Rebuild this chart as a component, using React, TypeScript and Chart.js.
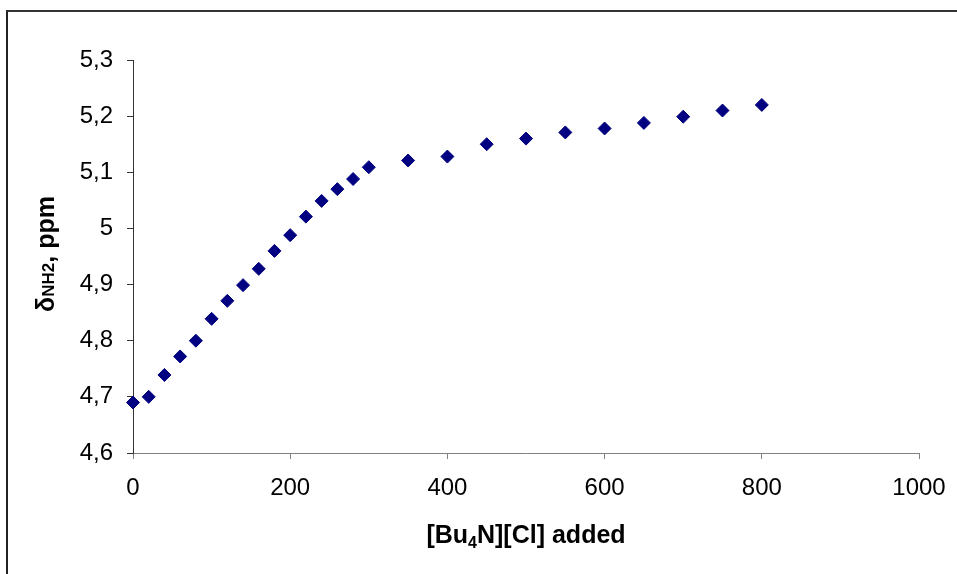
import React, { useEffect, useRef } from "react";
import { Chart, registerables } from "chart.js";

Chart.register(...registerables);

const xValues = [0, 20, 40, 60, 80, 100, 120, 140, 160, 180, 200, 220, 240, 260, 280, 300, 350, 400, 450, 500, 550, 600, 650, 700, 750, 800];
const yValues = [4.69, 4.70, 4.739, 4.772, 4.80, 4.839, 4.871, 4.899, 4.928, 4.96, 4.988, 5.021, 5.049, 5.07, 5.088, 5.109, 5.121, 5.128, 5.15, 5.16, 5.171, 5.178, 5.188, 5.199, 5.21, 5.22];
const yTickLabels = ["4,6", "4,7", "4,8", "4,9", "5", "5,1", "5,2", "5,3"];
const xTickLabels = ["0", "200", "400", "600", "800", "1000"];

const FONT = "Arial, 'Liberation Sans', sans-serif";

const titlePlugin = {
  id: "axisTitles",
  afterDraw(chart: any) {
    const ctx = chart.ctx as CanvasRenderingContext2D;
    const area = chart.chartArea;
    ctx.save();
    ctx.fillStyle = "#000";
    ctx.textBaseline = "alphabetic";
    ctx.textAlign = "left";
    const big = `bold 25px ${FONT}`;
    const small = `bold 16px ${FONT}`;
    // X title with subscript
    const parts: [string, string, number][] = [
      ["[Bu", big, 0],
      ["4", small, 5],
      ["N][Cl] added", big, 0],
    ];
    let total = 0;
    for (const [t, f] of parts) { ctx.font = f; total += ctx.measureText(t).width; }
    let x = (area.left + area.right) / 2 - total / 2;
    const by = 543;
    for (const [t, f, dy] of parts) {
      ctx.font = f;
      ctx.fillText(t, x, by + dy);
      x += ctx.measureText(t).width;
    }
    // Y title rotated
    const yparts: [string, string, number][] = [
      ["δ", big, 0],
      ["NH2", `bold 17px ${FONT}`, 0],
      [", ppm", big, 0],
    ];
    total = 0;
    for (const [t, f] of yparts) { ctx.font = f; total += ctx.measureText(t).width; }
    ctx.translate(54, 254);
    ctx.rotate(-Math.PI / 2);
    let lx = -total / 2;
    for (const [t, f, dy] of yparts) {
      ctx.font = f;
      ctx.fillText(t, lx, dy);
      lx += ctx.measureText(t).width;
    }
    ctx.restore();
  },
};

export default function App() {
  const ref = useRef<HTMLCanvasElement>(null);
  useEffect(() => {
    if (!ref.current) return;
    const data = xValues.map((x, i) => ({ x, y: yValues[i] }));
    const chart = new Chart(ref.current, {
      type: "scatter",
      data: {
        datasets: [
          {
            data,
            pointStyle: "rectRot",
            pointRadius: 6.5,
            pointHoverRadius: 6.5,
            backgroundColor: "#000080",
            borderColor: "#000080",
            borderWidth: 1,
            clip: false as any,
          },
        ],
      },
      options: {
        animation: false,
        responsive: false,
        events: [],
        layout: { padding: { left: 0, right: 38, top: 60, bottom: 0 } },
        plugins: { legend: { display: false }, tooltip: { enabled: false } },
        scales: {
          x: {
            type: "linear",
            min: 0,
            max: 1000,
            ticks: {
              stepSize: 200,
              color: "#000",
              font: { family: FONT, size: 24 },
              padding: 15,
              maxRotation: 0,
              callback: (v: any, i: number) => xTickLabels[i] ?? String(v),
            },
            grid: { drawOnChartArea: false, drawTicks: true, tickLength: 6, color: "#808080" },
            border: { display: true, color: "#808080", width: 1 },
            afterFit: (s: any) => { s.height = 121; s.paddingRight = 0; s.paddingLeft = 0; },
          },
          y: {
            type: "linear",
            min: 4.6,
            max: 5.3,
            ticks: {
              stepSize: 0.1,
              color: "#000",
              font: { family: FONT, size: 24 },
              padding: 14,
              callback: (v: any, i: number) => yTickLabels[i] ?? String(v),
            },
            grid: { drawOnChartArea: false, drawTicks: true, tickLength: 6, color: "#333" },
            border: { display: true, color: "#333", width: 1 },
            afterFit: (s: any) => { s.width = 133; s.paddingTop = 0; s.paddingBottom = 0; },
          },
        },
      },
      plugins: [titlePlugin],
    });
    return () => chart.destroy();
  }, []);
  return (
    <div style={{ position: "fixed", left: 0, top: 0, width: 957, height: 574, background: "#fff", overflow: "hidden" }}>
      <div style={{ position: "absolute", left: 6, top: 10, width: 1000, height: 1000, borderTop: "2px solid #333", borderLeft: "2px solid #222" }} />
      <canvas ref={ref} width={957} height={574} style={{ position: "absolute", left: 0, top: 0 }} />
    </div>
  );
}
